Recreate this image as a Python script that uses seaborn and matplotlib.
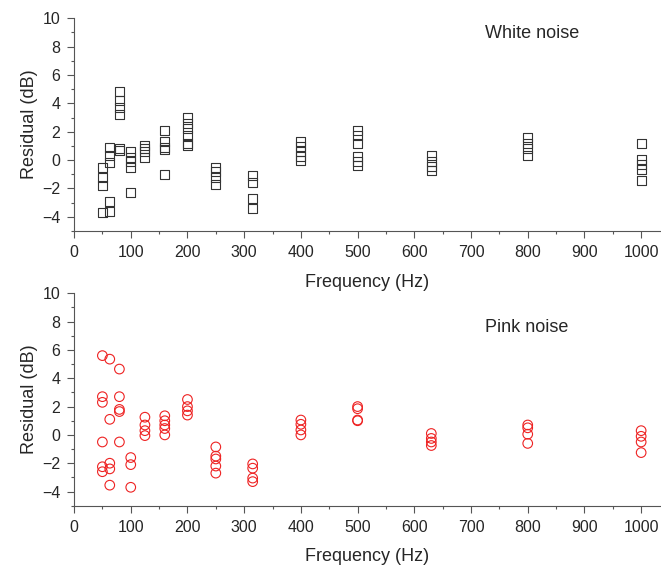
import matplotlib
matplotlib.use("Agg")
import matplotlib.pyplot as plt
import pandas as pd
import seaborn as sns
from matplotlib.ticker import MultipleLocator

bands = [50, 63, 80, 100, 125, 160, 200, 250, 315, 400, 500, 630, 800, 1000]

white_residuals = [
    [-0.5, -1.2, -1.8, -3.7],
    [0.9, 0.3, -0.2, -2.9, -3.6],
    [4.8, 4.2, 3.7, 3.2, 0.8, 0.7],
    [0.6, 0.2, -0.1, -0.5, -2.3],
    [1.0, 0.8, 0.6, 0.2],
    [2.05, 1.3, 0.9, 0.75, -1.05],
    [3.0, 2.6, 2.25, 1.7, 1.2, 1.0],
    [-0.55, -0.8, -1.2, -1.75],
    [-1.1, -1.6, -2.7, -3.45],
    [1.3, 0.95, 0.6, 0.25, -0.05],
    [2.1, 1.7, 1.2, 0.25, -0.1, -0.4],
    [0.3, -0.1, -0.45, -0.75],
    [1.6, 1.2, 0.8, 0.3],
    [1.2, 0.05, -0.3, -0.65, -1.45],
]

pink_residuals = [
    [5.6, 2.7, 2.3, -0.5, -2.25, -2.6],
    [5.35, 1.1, -2.0, -2.4, -3.55],
    [4.65, 2.7, 1.8, 1.65, -0.5],
    [-1.6, -2.1, -3.7],
    [1.25, 0.7, 0.3, -0.05],
    [1.35, 1.0, 0.7, 0.45, 0.0],
    [2.5, 2.0, 1.7, 1.4],
    [-0.85, -1.5, -1.7, -2.2, -2.7],
    [-2.05, -2.35, -3.05, -3.3],
    [1.05, 0.75, 0.35, 0.0],
    [2.0, 1.85, 1.05, 1.0],
    [0.1, -0.25, -0.5, -0.75],
    [0.7, 0.5, 0.05, -0.6],
    [0.3, -0.1, -0.5, -1.25],
]


def to_frame(values):
    rows = [(f, v) for f, vals in zip(bands, values) for v in vals]
    return pd.DataFrame(rows, columns=["freq", "residual"])


sns.set_style("white")
plt.rcParams["font.family"] = ["Liberation Sans", "DejaVu Sans"]
plt.rcParams["axes.edgecolor"] = "#555555"

fig = plt.figure(figsize=(6.61, 5.74), dpi=100)
ax_top = fig.add_axes([0.112, 0.5976, 0.888, 0.3706])
ax_bot = fig.add_axes([0.112, 0.119, 0.888, 0.370])

sns.scatterplot(data=to_frame(white_residuals), x="freq", y="residual", ax=ax_top,
                marker="s", s=42, facecolor="none", edgecolor="#333333", linewidth=0.8)
sns.scatterplot(data=to_frame(pink_residuals), x="freq", y="residual", ax=ax_bot,
                marker="o", s=48, facecolor="none", edgecolor="#ee2222", linewidth=0.8)

for ax, label, ly in [(ax_top, "White noise", 8.95), (ax_bot, "Pink noise", 7.6)]:
    ax.set_xlim(0, 1035)
    ax.set_ylim(-5, 10)
    ax.xaxis.set_major_locator(MultipleLocator(100))
    ax.xaxis.set_minor_locator(MultipleLocator(50))
    ax.set_yticks([-4, -2, 0, 2, 4, 6, 8, 10])
    ax.yaxis.set_minor_locator(MultipleLocator(1))
    ax.tick_params(which="major", direction="out", length=5, width=0.8, pad=5,
                   color="#555555", labelsize=11.5, bottom=True, left=True)
    ax.tick_params(which="minor", direction="out", length=2.5, width=0.8,
                   color="#555555", bottom=True, left=True)
    for side in ["top", "right"]:
        ax.spines[side].set_visible(False)
    ax.spines["left"].set_linewidth(0.8)
    ax.spines["bottom"].set_linewidth(0.8)
    ax.set_xlabel("Frequency (Hz)", fontsize=13, labelpad=10)
    ax.set_ylabel("Residual (dB)", fontsize=13, labelpad=3)
    ax.text(725, ly, label, fontsize=13, va="center", ha="left")

fig.savefig("out.png", dpi=100)
